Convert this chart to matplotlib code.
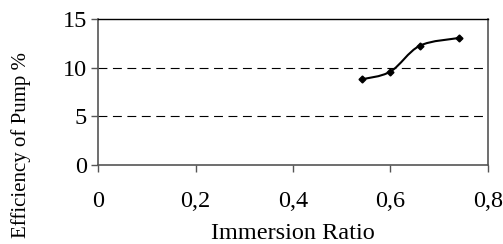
import numpy as np
import matplotlib.pyplot as plt
from matplotlib.path import Path
from matplotlib.patches import PathPatch

# data
immersion_ratio = [0.541, 0.600, 0.660, 0.740]
efficiency = [8.8, 9.6, 12.25, 13.05]

x_ticks = [0, 0.2, 0.4, 0.6, 0.8]
x_tick_labels = ["0", "0,2", "0,4", "0,6", "0,8"]
y_ticks = [0, 5, 10, 15]


def smooth_path(xs, ys, tension=1 / 6):
    """Excel-style smoothed line: cubic bezier segments through the points."""
    pts = np.column_stack([xs, ys])
    verts = [pts[0]]
    codes = [Path.MOVETO]
    n = len(pts)
    for i in range(n - 1):
        p0 = pts[i - 1] if i > 0 else pts[i]
        p1 = pts[i]
        p2 = pts[i + 1]
        p3 = pts[i + 2] if i + 2 < n else pts[i + 1]
        c1 = p1 + (p2 - p0) * tension
        c2 = p2 - (p3 - p1) * tension
        verts += [c1, c2, p2]
        codes += [Path.CURVE4] * 3
    return Path(verts, codes)


def main():
    plt.rcParams["font.family"] = ["Liberation Serif", "DejaVu Serif"]
    fig, ax = plt.subplots(figsize=(5.03, 2.44), dpi=100)
    fig.subplots_adjust(left=0.195, right=0.970, top=0.922, bottom=0.324)

    ax.set_xlim(0, 0.8)
    ax.set_ylim(0, 15)

    for y in [5, 10]:
        ax.axhline(y, color="black", lw=0.8, ls=(0, (8, 5)), zorder=1)

    patch = PathPatch(smooth_path(immersion_ratio, efficiency),
                      facecolor="none", edgecolor="black", lw=1.5, zorder=3)
    ax.add_patch(patch)
    ax.plot(immersion_ratio, efficiency, ls="none", marker="D",
            ms=3.5, color="black", zorder=4)

    ax.set_xticks(x_ticks)
    ax.set_xticklabels(x_tick_labels)
    ax.set_yticks(y_ticks)
    ax.tick_params(axis="both", labelsize=17.5, direction="out", length=5,
                   width=1, color="#555555")
    ax.tick_params(axis="x", pad=14)
    ax.tick_params(axis="y", pad=3)

    for side in ["left", "bottom", "right"]:
        ax.spines[side].set_color("#555555")
        ax.spines[side].set_linewidth(1.2)
    ax.spines["top"].set_color("black")
    ax.spines["top"].set_linewidth(1)

    ax.set_xlabel("Immersion Ratio", fontsize=17.5, va="baseline")
    ax.xaxis.set_label_coords(0.5, -0.51)

    fig.text(0.041, 0.406, "Efficiency of Pump %", fontsize=15,
             rotation=90, ha="center", va="center")

    fig.savefig("out.png", dpi=100)


if __name__ == "__main__":
    main()
